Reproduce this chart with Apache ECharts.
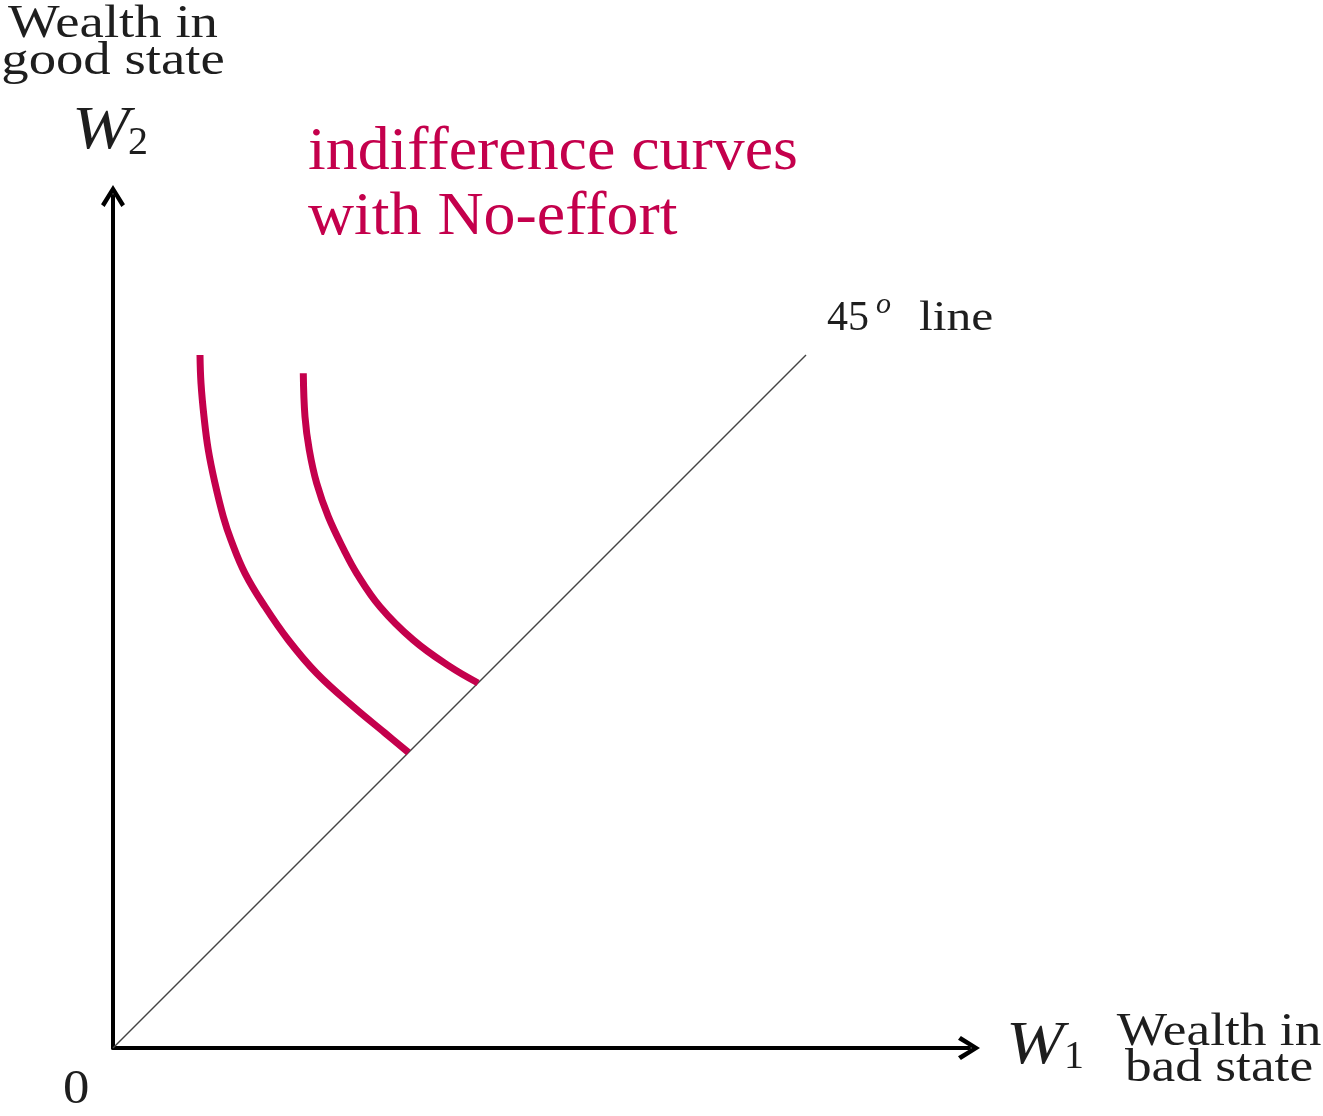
<!DOCTYPE html>
<html>
<head>
<meta charset="utf-8">
<script src="https://cdn.jsdelivr.net/npm/echarts@6/dist/echarts.min.js"></script>
<style>
  html, body { margin: 0; padding: 0; background: #fff; }
  #chart { width: 1323px; height: 1116px; }
</style>
</head>
<body>
<div id="chart"></div>
<script>
// Indifference curve 1 (inner) points [W1, W2]
const curveInner = [[0.87,6.93],[0.88,6.647],[0.91,6.313],[0.953,5.98],[1.02,5.647],[1.103,5.313],[1.18,5.08],[1.32,4.747],[1.52,4.413],[1.753,4.08],[2.037,3.747],[2.403,3.413],[2.72,3.15],[2.955,2.955]];
// Indifference curve 2 (outer) points [W1, W2]
const curveOuter = [[1.903,6.747],[1.92,6.313],[1.963,5.98],[2.037,5.647],[2.153,5.313],[2.31,4.98],[2.437,4.747],[2.67,4.413],[3.003,4.08],[3.37,3.813],[3.65,3.65]];
// 45 degree line
const line45 = [[0,0],[6.93,6.93]];
const xMax = 8.56, yMax = 8.52;

const RED = '#C4004C';
const INK = '#1e1e1e';
const SERIF = '"Liberation Serif", "DejaVu Serif", serif';
const chevron = 'path://M5,0 L10,8 L8.5,9.2 L5,3.4 L1.5,9.2 L0,8 Z';

const chart = echarts.init(document.getElementById('chart'));
chart.setOption({
  animation: false,
  backgroundColor: '#fff',
  grid: { left: 113, top: 196, right: 354, bottom: 68 },
  xAxis: {
    type: 'value', min: 0, max: xMax,
    axisLine: { show: true, onZero: true, symbol: ['none', chevron], symbolSize: [30, 22], lineStyle: { color: '#000', width: 4 } },
    axisTick: { show: false }, axisLabel: { show: false }, splitLine: { show: false }
  },
  yAxis: {
    type: 'value', min: 0, max: yMax,
    axisLine: { show: true, onZero: true, symbol: ['none', chevron], symbolSize: [30, 22], lineStyle: { color: '#000', width: 4 } },
    axisTick: { show: false }, axisLabel: { show: false }, splitLine: { show: false }
  },
  series: [
    { type: 'line', data: line45, showSymbol: false, lineStyle: { color: '#444', width: 1.5 } },
    { type: 'line', data: curveInner, smooth: 0.4, showSymbol: false, lineStyle: { color: RED, width: 7, cap: 'butt' } },
    { type: 'line', data: curveOuter, smooth: 0.4, showSymbol: false, lineStyle: { color: RED, width: 7, cap: 'butt' } }
  ],
  graphic: [
    { type: 'text', x: 113, y: 6, scaleX: 1.19, style: { text: 'Wealth in\ngood state', font: '46px ' + SERIF, fill: INK, align: 'center', lineHeight: 37 } },
    { type: 'text', x: 72, y: 101, scaleX: 1.12, style: { text: 'W', font: 'italic 62px ' + SERIF, fill: INK } },
    { type: 'text', x: 128, y: 123, style: { text: '2', font: '40px ' + SERIF, fill: INK } },
    { type: 'text', x: 308, y: 120, scaleX: 1.03, style: { text: 'indifference curves\nwith No-effort', font: '62px ' + SERIF, fill: RED, lineHeight: 65 } },
    { type: 'text', x: 827, y: 298, style: { text: '45', font: '42px ' + SERIF, fill: INK } },
    { type: 'text', x: 876, y: 290, style: { text: 'o', font: 'italic 30px ' + SERIF, fill: INK } },
    { type: 'text', x: 919, y: 298, scaleX: 1.18, style: { text: 'line', font: '42px ' + SERIF, fill: INK } },
    { type: 'text', x: 1006, y: 1016, scaleX: 1.12, style: { text: 'W', font: 'italic 62px ' + SERIF, fill: INK } },
    { type: 'text', x: 1064, y: 1037, style: { text: '1', font: '40px ' + SERIF, fill: INK } },
    { type: 'text', x: 1219, y: 1015, scaleX: 1.16, style: { text: 'Wealth in\nbad state', font: '46px ' + SERIF, fill: INK, align: 'center', lineHeight: 36 } },
    { type: 'text', x: 63, y: 1066, scaleX: 1.1, style: { text: '0', font: '48px ' + SERIF, fill: INK } }
  ]
});
</script>
</body>
</html>
